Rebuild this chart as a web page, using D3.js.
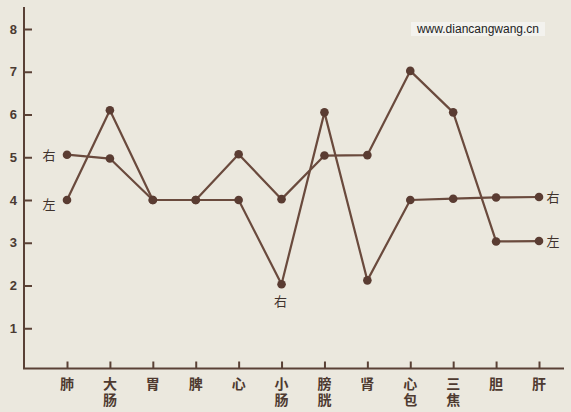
<!DOCTYPE html>
<html><head><meta charset="utf-8">
<script src="https://cdn.jsdelivr.net/npm/d3@7"></script>
<style>
html,body{margin:0;padding:0;background:#ebe8de;}
svg{display:block;}
</style></head>
<body>
<svg id="chart" width="571" height="412"></svg>
<script>
const categories = ["肺","大肠","胃","脾","心","小肠","膀胱","肾","心包","三焦","胆","肝"];
const leftSeries  = [4.0, 6.1, 4.0, 4.0, 5.07, 4.02, 5.04, 5.05, 7.02, 6.05, 3.03, 3.04]; // 左
const rightSeries = [5.06, 4.97, 4.0, 4.0, 4.0, 2.03, 6.05, 2.12, 4.0, 4.03, 4.06, 4.07]; // 右
const yTicks = [1,2,3,4,5,6,7,8];
const watermark = "www.diancangwang.cn";

const svg = d3.select("#chart");
const ink = "#5a4136";
const lineCol = "#6a4a3d";

const x = d3.scalePoint().domain(categories).range([67, 539]);
const y = d3.scaleLinear().domain([0, 8]).range([371, 29]);

svg.append("line").attr("x1",24).attr("x2",24).attr("y1",7).attr("y2",369)
  .attr("stroke",ink).attr("stroke-width",2);
svg.append("line").attr("x1",23).attr("x2",564).attr("y1",368.5).attr("y2",368.5)
  .attr("stroke",ink).attr("stroke-width",2);

const yAxis = d3.axisLeft(y).tickValues(yTicks).tickSizeInner(-8).tickSizeOuter(0).tickPadding(7)
  .tickFormat(d3.format("d"));
const gy = svg.append("g").attr("transform","translate(24,0)").call(yAxis);
gy.select(".domain").remove();
gy.selectAll(".tick line").attr("stroke",ink).attr("stroke-width",2);
gy.selectAll(".tick text").attr("fill","#4a3a32").attr("font-family","Liberation Sans, Arial, sans-serif")
  .attr("font-weight","bold").attr("font-size",13);

const xAxis = d3.axisBottom(x).tickSizeInner(-7).tickSizeOuter(0).tickFormat("");
const gx = svg.append("g").attr("transform","translate(0,368.5)").call(xAxis);
gx.select(".domain").remove();
gx.selectAll(".tick line").attr("stroke",ink).attr("stroke-width",2);

categories.forEach(c => {
  c.split("").forEach((ch,i) => {
    svg.append("text").attr("x", x(c)).attr("y", 389 + i*16).attr("text-anchor","middle")
      .attr("font-family","Noto Sans CJK SC, sans-serif").attr("font-weight","bold")
      .attr("font-size",14).attr("fill","#4e3a30").text(ch);
  });
});

const line = d3.line().x((d,i)=>x(categories[i])).y(d=>y(d));
[leftSeries, rightSeries].forEach(s => {
  svg.append("path").datum(s).attr("d", line).attr("fill","none")
    .attr("stroke", lineCol).attr("stroke-width",2.2).attr("stroke-linejoin","round");
  svg.append("g").selectAll("circle").data(s).join("circle")
    .attr("cx",(d,i)=>x(categories[i])).attr("cy",d=>y(d)).attr("r",4.3).attr("fill","#5a3c32");
});

const lab = (txt, xx, yy) => svg.append("text").attr("x",xx).attr("y",yy)
  .attr("text-anchor","middle").attr("font-family","Noto Sans CJK SC, sans-serif")
  .attr("font-size",13).attr("fill","#3f322c").text(txt);
lab("右", x(categories[0]) - 18, y(rightSeries[0]) + 5);
lab("左", x(categories[0]) - 18, y(leftSeries[0]) + 9);
lab("右", x(categories[5]) - 1, y(rightSeries[5]) + 22);
lab("右", x(categories[11]) + 14, y(rightSeries[11]) + 5);
lab("左", x(categories[11]) + 14, y(leftSeries[11]) + 5);

svg.append("rect").attr("x",411).attr("y",22).attr("width",134).attr("height",14).attr("fill","#f3f2ee");
svg.append("text").attr("x",478).attr("y",33).attr("text-anchor","middle")
  .attr("font-family","Liberation Sans, Arial, sans-serif").attr("font-size",12).attr("fill","#222")
  .text(watermark);
</script>
</body></html>
